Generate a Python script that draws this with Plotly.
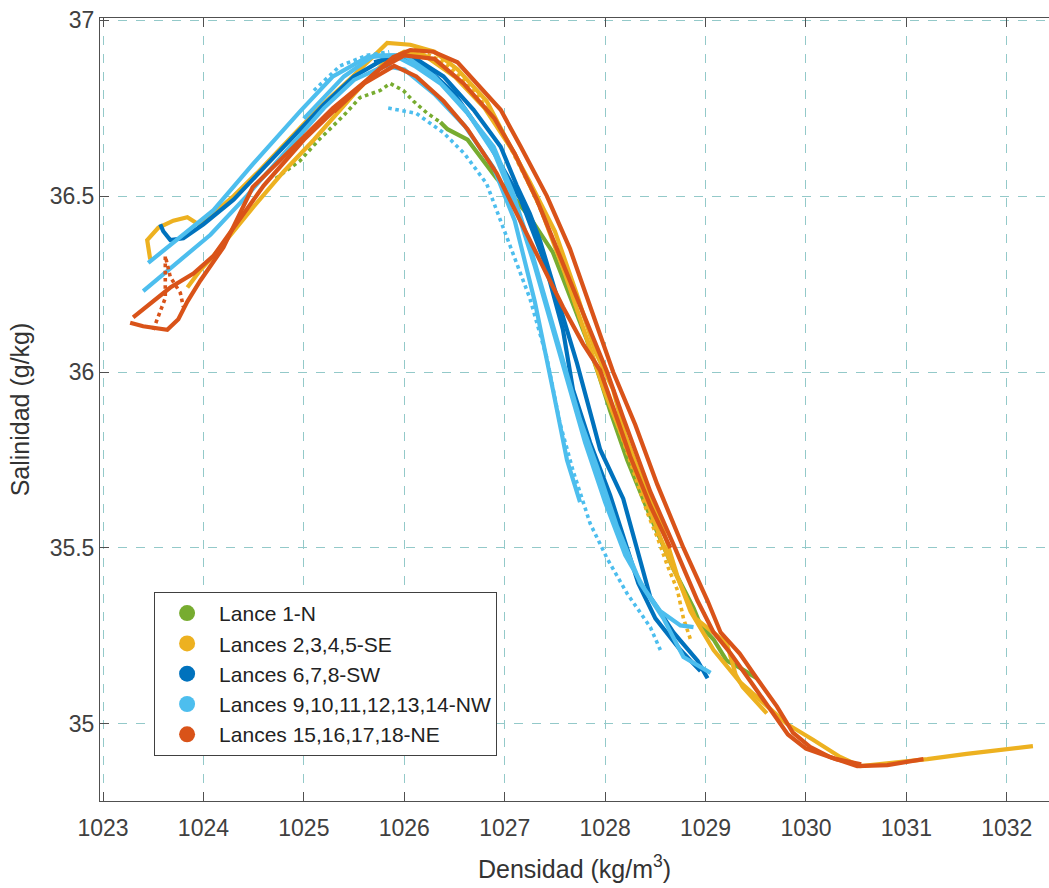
import plotly.graph_objects as go

# ---------------- data ----------------
# each profile: list of (density kg/m3, salinity g/kg)

# Lance 1-N (green)
n_1_upper = [(1024.72, 36.55), (1024.96, 36.60), (1025.15, 36.66), (1025.29, 36.70), (1025.40, 36.73),
             (1025.56, 36.78), (1025.76, 36.80), (1025.86, 36.82), (1025.99, 36.80), (1026.09, 36.77),
             (1026.23, 36.735), (1026.36, 36.71)]
n_1_lower = [(1026.36, 36.71), (1026.43, 36.69), (1026.63, 36.66), (1026.82, 36.59), (1026.92, 36.55),
             (1027.08, 36.50), (1027.25, 36.44), (1027.48, 36.34), (1027.68, 36.195), (1027.82, 36.09),
             (1027.95, 35.98), (1028.05, 35.89), (1028.22, 35.75), (1028.42, 35.61), (1028.68, 35.44),
             (1028.88, 35.33), (1028.95, 35.28), (1029.08, 35.24), (1029.21, 35.18), (1029.34, 35.16),
             (1029.51, 35.13)]

# Lances 2,3,4,5-SE (yellow)
se_a = [(1023.47, 36.32), (1023.44, 36.375), (1023.55, 36.41), (1023.70, 36.43), (1023.84, 36.44),
        (1023.95, 36.42), (1024.10, 36.45), (1024.30, 36.50), (1024.55, 36.57), (1024.85, 36.66),
        (1025.15, 36.75), (1025.45, 36.83), (1025.70, 36.90), (1025.83, 36.935), (1026.06, 36.93),
        (1026.30, 36.91), (1026.53, 36.86), (1026.82, 36.77), (1027.02, 36.66), (1027.25, 36.54),
        (1027.50, 36.40), (1027.72, 36.22), (1027.90, 36.06), (1028.08, 35.95), (1028.20, 35.82),
        (1028.40, 35.67), (1028.58, 35.55), (1028.72, 35.42), (1028.85, 35.32), (1029.08, 35.21),
        (1029.34, 35.12), (1029.54, 35.07), (1029.81, 35.00), (1030.07, 34.955), (1030.34, 34.906),
        (1030.54, 34.88), (1030.90, 34.89), (1031.21, 34.90), (1031.60, 34.915), (1032.00, 34.93),
        (1032.26, 34.937)]
se_b = [(1023.84, 36.24), (1023.97, 36.29), (1024.10, 36.33), (1024.30, 36.40), (1024.50, 36.47),
        (1024.80, 36.57), (1025.10, 36.66), (1025.50, 36.79), (1025.80, 36.88), (1026.00, 36.91),
        (1026.20, 36.90), (1026.50, 36.84), (1026.80, 36.75), (1027.10, 36.62), (1027.35, 36.47),
        (1027.60, 36.28), (1027.80, 36.11), (1028.00, 35.94), (1028.18, 35.81), (1028.35, 35.68),
        (1028.50, 35.56), (1028.55, 35.53), (1028.62, 35.48), (1028.78, 35.38), (1028.90, 35.30),
        (1029.21, 35.23), (1029.30, 35.14), (1029.37, 35.105), (1029.61, 35.03)]
se_c = [(1026.10, 36.92), (1026.40, 36.88), (1026.70, 36.80), (1027.00, 36.67), (1027.30, 36.50),
        (1027.55, 36.33), (1027.75, 36.15), (1027.95, 35.98), (1028.15, 35.83), (1028.30, 35.70),
        (1028.42, 35.60), (1028.52, 35.53), (1028.62, 35.45), (1028.72, 35.38), (1028.78, 35.30),
        (1028.85, 35.24)]

# Lances 6,7,8-SW (dark blue)
sw_a = [(1023.57, 36.42), (1023.60, 36.40), (1023.67, 36.375), (1023.80, 36.38), (1024.00, 36.42),
        (1024.30, 36.49), (1024.60, 36.58), (1024.90, 36.67), (1025.20, 36.76), (1025.50, 36.84),
        (1025.80, 36.89), (1026.09, 36.895), (1026.39, 36.84), (1026.69, 36.745), (1026.96, 36.64),
        (1027.12, 36.53), (1027.25, 36.45), (1027.35, 36.375), (1027.55, 36.185), (1027.72, 36.025),
        (1027.88, 35.855), (1027.95, 35.78), (1028.18, 35.64), (1028.32, 35.50), (1028.45, 35.36),
        (1028.68, 35.26), (1028.92, 35.18), (1029.02, 35.13)]
sw_b = [(1025.70, 36.88), (1025.95, 36.90), (1026.20, 36.87), (1026.50, 36.79), (1026.82, 36.66),
        (1027.00, 36.57), (1027.16, 36.49), (1027.40, 36.31), (1027.58, 36.12), (1027.68, 35.95),
        (1027.85, 35.80), (1028.05, 35.65), (1028.20, 35.52), (1028.33, 35.40), (1028.50, 35.30),
        (1028.75, 35.21), (1028.95, 35.15)]

# Lances 9,10,11,12,13,14-NW (light blue)
nw_a = [(1023.45, 36.31), (1023.80, 36.39), (1024.10, 36.46), (1024.49, 36.59), (1024.96, 36.74),
        (1025.29, 36.84), (1025.63, 36.895), (1025.90, 36.90), (1026.10, 36.87), (1026.36, 36.82),
        (1026.63, 36.735), (1026.89, 36.64), (1027.08, 36.51), (1027.25, 36.36), (1027.40, 36.21),
        (1027.58, 36.04), (1027.75, 35.865), (1027.92, 35.73), (1028.12, 35.56), (1028.35, 35.40),
        (1028.58, 35.30), (1028.78, 35.19), (1029.05, 35.145)]
nw_b = [(1023.40, 36.23), (1023.70, 36.30), (1024.07, 36.39), (1024.43, 36.50), (1024.80, 36.62),
        (1025.20, 36.75), (1025.50, 36.83), (1025.80, 36.87), (1026.00, 36.86), (1026.30, 36.79),
        (1026.60, 36.70), (1026.89, 36.58), (1027.10, 36.43), (1027.30, 36.20), (1027.48, 35.95),
        (1027.62, 35.75), (1027.75, 35.63)]
nw_c = [(1025.84, 36.75), (1026.12, 36.735), (1026.39, 36.68), (1026.60, 36.62), (1026.82, 36.535),
        (1027.02, 36.385), (1027.25, 36.21), (1027.42, 36.04), (1027.55, 35.855), (1027.68, 35.72),
        (1027.85, 35.57), (1028.02, 35.47), (1028.22, 35.37), (1028.45, 35.275), (1028.55, 35.21)]
nw_d = [(1025.00, 36.72), (1025.40, 36.84), (1025.70, 36.90), (1026.00, 36.90), (1026.30, 36.84),
        (1026.60, 36.75), (1026.90, 36.62), (1027.10, 36.48), (1027.30, 36.30), (1027.50, 36.10),
        (1027.65, 35.95), (1027.80, 35.80), (1028.00, 35.63), (1028.20, 35.48), (1028.40, 35.38),
        (1028.55, 35.32), (1028.75, 35.28), (1028.88, 35.275)]
nw_e = [(1025.10, 36.80), (1025.36, 36.87), (1025.63, 36.90), (1025.85, 36.91)]

# Lances 15,16,17,18-NE (red)
ne_a = [(1023.27, 36.14), (1023.40, 36.13), (1023.64, 36.12), (1023.75, 36.15), (1023.84, 36.20),
        (1023.97, 36.26), (1024.20, 36.355), (1024.36, 36.45), (1024.49, 36.525), (1024.83, 36.62),
        (1025.29, 36.75), (1025.63, 36.83), (1025.89, 36.895), (1026.06, 36.915), (1026.29, 36.91),
        (1026.53, 36.88), (1026.76, 36.81), (1026.96, 36.745), (1027.16, 36.64), (1027.42, 36.50),
        (1027.65, 36.35), (1027.88, 36.16), (1028.08, 36.00), (1028.30, 35.85), (1028.52, 35.68),
        (1028.78, 35.50), (1029.02, 35.35), (1029.15, 35.26), (1029.34, 35.20), (1029.51, 35.13),
        (1029.71, 35.05), (1029.87, 34.975), (1030.04, 34.935), (1030.24, 34.906), (1030.51, 34.88),
        (1030.81, 34.883), (1031.17, 34.90)]
ne_b = [(1023.30, 36.155), (1023.54, 36.21), (1023.67, 36.24), (1023.90, 36.28), (1024.10, 36.33),
        (1024.30, 36.41), (1024.60, 36.53), (1025.00, 36.66), (1025.40, 36.77), (1025.75, 36.86),
        (1026.00, 36.90), (1026.30, 36.89), (1026.59, 36.82), (1026.90, 36.72), (1027.10, 36.62),
        (1027.32, 36.49), (1027.58, 36.31), (1027.82, 36.14), (1028.02, 36.00), (1028.18, 35.87),
        (1028.45, 35.66), (1028.68, 35.51), (1028.92, 35.35), (1029.08, 35.26), (1029.25, 35.20),
        (1029.45, 35.12), (1029.65, 35.04), (1029.82, 34.97), (1030.00, 34.93), (1030.30, 34.90),
        (1030.55, 34.885)]
ne_c = [(1025.30, 36.74), (1025.60, 36.82), (1025.90, 36.87), (1026.12, 36.84), (1026.39, 36.77),
        (1026.63, 36.69), (1026.92, 36.565), (1027.12, 36.45), (1027.42, 36.28), (1027.58, 36.185),
        (1027.78, 36.08), (1027.95, 36.005), (1028.08, 35.90), (1028.25, 35.76), (1028.45, 35.62),
        (1028.65, 35.50)]
ne_d = [(1023.50, 36.12), (1023.57, 36.17), (1023.62, 36.21), (1023.62, 36.33), (1023.67, 36.27),
        (1023.77, 36.225), (1023.80, 36.185)]

# legend labels and colours
names = ["Lance 1-N", "Lances 2,3,4,5-SE", "Lances 6,7,8-SW",
         "Lances 9,10,11,12,13,14-NW", "Lances 15,16,17,18-NE"]
colors = ["#77AC30", "#EDB120", "#0072BD", "#4DBEEE", "#D95319"]

# (group index, profile, dash)
profiles = [
    (0, n_1_upper, "dot"), (0, n_1_lower, "solid"),
    (1, se_a, "solid"), (1, se_b, "solid"), (1, se_c, "dot"),
    (2, sw_a, "solid"), (2, sw_b, "solid"),
    (3, nw_b, "solid"), (3, nw_a, "solid"), (3, nw_c, "dot"), (3, nw_d, "solid"), (3, nw_e, "dot"),
    (4, ne_a, "solid"), (4, ne_b, "solid"), (4, ne_c, "solid"), (4, ne_d, "dot"),
]

x_ticks = [1023, 1024, 1025, 1026, 1027, 1028, 1029, 1030, 1031, 1032]
y_ticks = [35, 35.5, 36, 36.5, 37]
y_tick_text = ["35", "35.5", "36", "36.5", "37"]

# ---------------- figure ----------------
fig = go.Figure()
for gi, prof, dash in profiles:
    fig.add_trace(go.Scatter(
        x=[p[0] for p in prof], y=[p[1] for p in prof],
        mode="lines",
        line=dict(color=colors[gi], width=4.2 if dash == "solid" else 3.6, dash=dash),
        showlegend=False, hoverinfo="skip"))

for name, col in zip(names, colors):
    fig.add_trace(go.Scatter(x=[None], y=[None], mode="markers", name=name,
                             marker=dict(color=col, size=16, symbol="circle")))

FONT = "Liberation Sans, Arial, Helvetica, sans-serif"
grid_col = "#93c9c9"
axis_col = "#505050"

fig.update_layout(
    width=1049, height=888,
    margin=dict(l=100, r=0, t=18, b=87),
    paper_bgcolor="white", plot_bgcolor="white",
    font=dict(family=FONT, color="#333333"),
    legend=dict(x=0.057, y=0.267, xanchor="left", yanchor="top",
                bgcolor="white", bordercolor="#404040", borderwidth=1,
                font=dict(size=21, family=FONT, color="#222222"),
                itemsizing="trace", itemwidth=54),
    showlegend=True,
)
fig.update_xaxes(
    range=[1022.97, 1032.42], tickvals=x_ticks,
    ticks="inside", ticklen=9, tickcolor=axis_col, tickwidth=1,
    showline=True, linecolor=axis_col, linewidth=1, mirror="ticks",
    showgrid=True, gridcolor=grid_col, griddash="dash", gridwidth=1,
    zeroline=False, tickfont=dict(size=23, color="#404040"), ticklabelstandoff=6,
    title=dict(text="Densidad (kg/m<sup>3</sup>)", font=dict(size=25, color="#333333"), standoff=20),
)
fig.update_yaxes(
    range=[34.781, 37.006], tickvals=y_ticks, ticktext=y_tick_text,
    ticks="inside", ticklen=9, tickcolor=axis_col, tickwidth=1,
    showline=True, linecolor=axis_col, linewidth=1, mirror=False,
    showgrid=True, gridcolor=grid_col, griddash="dash", gridwidth=1,
    zeroline=False, tickfont=dict(size=23, color="#404040"),
    title=dict(text="Salinidad (g/kg)", font=dict(size=25, color="#333333"), standoff=12),
)

fig.write_html("out.html")
